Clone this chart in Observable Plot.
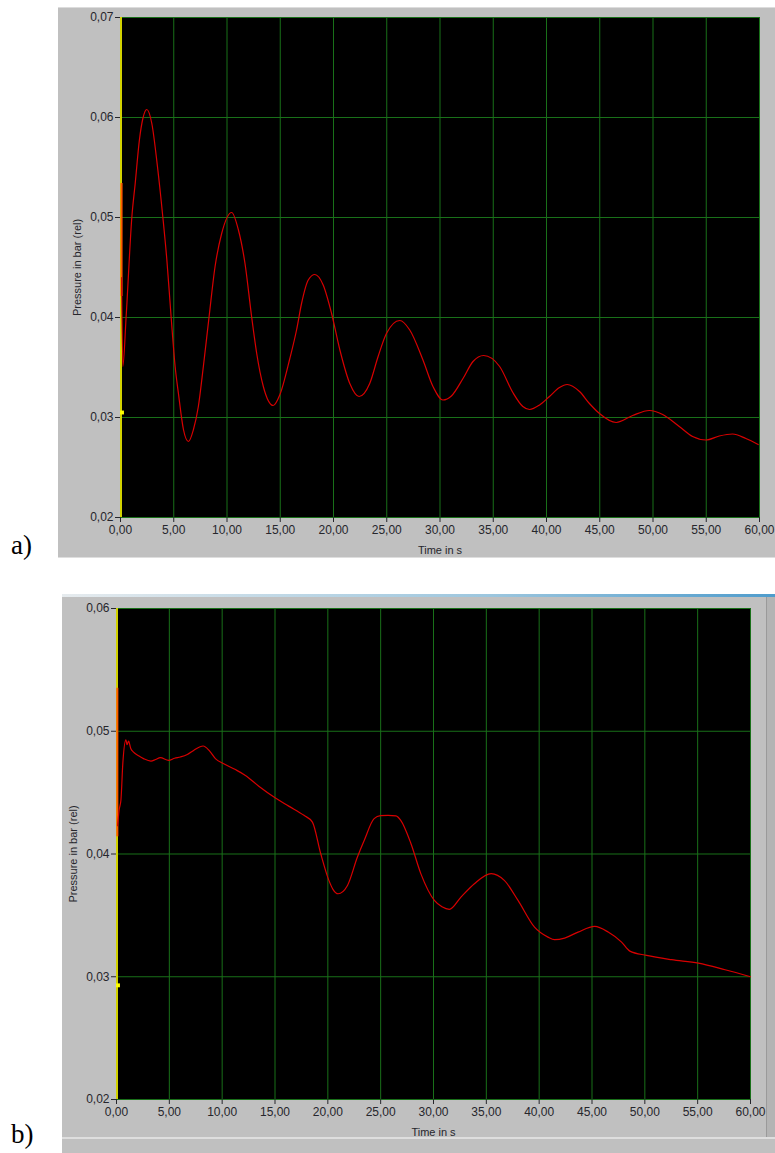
<!DOCTYPE html>
<html><head><meta charset="utf-8">
<script src="https://cdn.jsdelivr.net/npm/d3@7"></script>
<script src="https://cdn.jsdelivr.net/npm/@observablehq/plot@0.6"></script>
<style>
body{margin:0;background:#fff;}
#page{position:relative;width:775px;height:1153px;overflow:hidden;font-family:"Liberation Sans",Arial,sans-serif;}
.abs{position:absolute;}
.tag{position:absolute;font-family:"Liberation Serif","Times New Roman",serif;font-size:27px;color:#000;}
g[aria-label="x-axis label"], g[aria-label="y-axis label"]{font-size:11px;}
</style></head><body>
<div id="page">
  <div class="abs" style="left:58px;top:7px;width:717px;height:1px;background:#dcdcdc"></div>
  <div class="abs" style="left:58px;top:8px;width:717px;height:549px;background:#c0c0c0"></div>
  <div class="abs" style="left:58px;top:557px;width:717px;height:1px;background:#dedede"></div>
  <div class="abs" id="chartA" style="left:58px;top:7px;"></div>
  <div class="tag" style="left:11px;top:530px;">a)</div>

  <div class="abs" style="left:62px;top:594px;width:713px;height:3px;background:linear-gradient(to right,#e6ebee,#9cc6de 60%,#4f9ccc)"></div>
  <div class="abs" style="left:62px;top:597px;width:713px;height:540px;background:#c0c0c0"></div>
  <div class="abs" style="left:766px;top:597px;width:1px;height:540px;background:#9a9a9a"></div>
  <div class="abs" style="left:767px;top:597px;width:8px;height:540px;background:#b4b4b4"></div>
  <div class="abs" style="left:62px;top:1137px;width:713px;height:2px;background:#dedede"></div>
  <div class="abs" style="left:62px;top:1139px;width:713px;height:14px;background:#c0c0c0"></div>
  <div class="abs" id="chartB" style="left:62px;top:597px;"></div>
  <div class="tag" style="left:11px;top:1119px;">b)</div>
</div>
<script>
// ---------- data ----------
const xTicks = [0, 5, 10, 15, 20, 25, 30, 35, 40, 45, 50, 55, 60];
const yTicksA = [0.02, 0.03, 0.04, 0.05, 0.06, 0.07];
const yTicksB = [0.02, 0.03, 0.04, 0.05, 0.06];
const xLabel = "Time in s";
const yLabel = "Pressure in bar (rel)";

const timeA = [0.1,0.22,0.53,1.07,1.38,1.78,2.1,2.47,2.94,3.47,3.97,4.35,4.75,5.13,5.44,5.91,6.38,6.85,7.31,7.78,8.32,8.88,9.5,10.44,11.06,11.69,12.31,12.79,13.41,14.34,14.97,15.9,16.54,17.0,17.63,18.25,19.03,19.82,20.6,21.53,22.4,23.4,24.19,24.97,26.22,27.16,28.4,29.34,30.28,31.07,32.16,33.1,34.1,35.6,36.84,37.78,38.41,39.35,40.28,41.22,41.94,43.1,44.03,44.97,46.54,48.09,49.66,50.91,52.47,53.72,54.97,56.22,57.47,58.72,59.88];
const pressureA = [0.0440,0.0351,0.0401,0.0501,0.0534,0.0578,0.0599,0.0608,0.0594,0.0551,0.0501,0.0458,0.0401,0.0351,0.0324,0.0288,0.0276,0.0288,0.0311,0.0351,0.0401,0.0451,0.0484,0.0505,0.0488,0.0454,0.0401,0.0364,0.0331,0.0312,0.0323,0.0359,0.0388,0.0414,0.04375,0.0443,0.04325,0.0404,0.03675,0.0334,0.0321,0.0334,0.0361,0.0384,0.0397,0.03875,0.03575,0.0331,0.03175,0.03215,0.0339,0.0356,0.0362,0.0351,0.0325,0.0311,0.0308,0.03125,0.0321,0.0330,0.0333,0.0326,0.0314,0.0304,0.0295,0.0302,0.0307,0.0303,0.0291,0.0281,0.02775,0.02815,0.02835,0.0279,0.0273];

const timeB = [0.1,0.25,0.42,0.6,0.89,1.0,1.14,1.35,1.61,2.09,2.6,3.26,3.7,4.15,4.93,5.5,6.04,6.7,7.3,8.2,8.8,9.36,10.15,11.2,12.2,13.5,14.9,16.3,17.74,18.54,19.33,20.1,20.5,20.97,21.86,22.8,23.44,24.38,25.0,25.7,26.45,26.9,27.87,28.8,30.08,30.8,31.5,32.6,33.87,35.46,36.7,38.0,39.56,40.83,41.46,42.41,43.68,45.26,46.53,47.8,48.58,50.16,52.53,55.07,57.6,60];
const pressureB = [0.0423,0.0436,0.0444,0.0474,0.0493,0.0489,0.0492,0.0486,0.0483,0.0480,0.04775,0.04757,0.0477,0.04785,0.04763,0.0478,0.0479,0.0481,0.04844,0.0488,0.0484,0.04777,0.04736,0.0469,0.0464,0.0455,0.04464,0.0439,0.04315,0.0426,0.04002,0.03785,0.0371,0.03676,0.03744,0.03975,0.0411,0.04288,0.04312,0.04315,0.0431,0.04274,0.04084,0.0384,0.03622,0.0357,0.03549,0.03649,0.03758,0.0384,0.03785,0.03622,0.03404,0.03323,0.03302,0.03315,0.03364,0.0341,0.03364,0.03282,0.03209,0.03174,0.03139,0.03111,0.03057,0.0300];

// start-up transient and cursor markers
const spikeTimeA = [0.1], spikeLowA = [0.0421], spikeHighA = [0.0534];
const spikeTimeB = [0.08], spikeLowB = [0.0414], spikeHighB = [0.0535];
const cursorTime = [0];
const cursorA = [0.0305];
const cursorB = [0.0293];

// ---------- drawing ----------
const fmt = d => d.toFixed(2).replace(".", ",");
const GRID = "#197019";

function chart({time, pressure, yDomain, yTicks, spikeT, spikeLo, spikeHi, cursor, width, height, margins}) {
  return Plot.plot({
    width, height,
    marginLeft: margins[0], marginTop: margins[1], marginRight: margins[2], marginBottom: margins[3],
    style: {background: "transparent", color: "#26262c", fontFamily: "'Liberation Sans', Arial, sans-serif", fontSize: "12px", overflow: "visible"},
    x: {domain: [0, 60]},
    y: {domain: yDomain},
    marks: [
      Plot.frame({fill: "black", stroke: "#808080"}),
      Plot.gridX(xTicks, {stroke: GRID, strokeOpacity: 1, strokeWidth: 1}),
      Plot.gridY(yTicks, {stroke: GRID, strokeOpacity: 1, strokeWidth: 1}),
      Plot.axisX({ticks: xTicks, tickFormat: fmt, tickSize: 5, tickPadding: 3, label: xLabel, labelAnchor: "center", labelOffset: 36, labelArrow: "none"}),
      Plot.axisY({ticks: yTicks, tickFormat: fmt, tickSize: 5, tickPadding: 2, label: yLabel, labelAnchor: "center", labelOffset: 47, labelArrow: "none"}),
      Plot.ruleX(cursorTime, {stroke: "#d2d200", strokeWidth: 2, dx: 0.5}),
      Plot.ruleX(spikeT, {y1: spikeLo, y2: spikeHi, stroke: "#ff5a00", strokeWidth: 2}),
      Plot.line(pressure, {x: time, y: pressure, stroke: "#d80000", strokeWidth: 1.2, curve: "monotone-x"}),
      Plot.dot(cursor, {x: cursorTime, y: cursor, symbol: "square", r: 2.2, fill: "#ffff00", stroke: "none", dx: 1.5})
    ]
  });
}

document.getElementById("chartA").append(chart({
  time: timeA, pressure: pressureA, yDomain: [0.02, 0.07], yTicks: yTicksA,
  spikeT: spikeTimeA, spikeLo: spikeLowA, spikeHi: spikeHighA, cursor: cursorA,
  width: 717, height: 551, margins: [62, 10, 16, 41]
}));
document.getElementById("chartB").append(chart({
  time: timeB, pressure: pressureB, yDomain: [0.02, 0.06], yTicks: yTicksB,
  spikeT: spikeTimeB, spikeLo: spikeLowB, spikeHi: spikeHighB, cursor: cursorB,
  width: 713, height: 540, margins: [54, 11, 25, 38]
}));
</script>
</body></html>
